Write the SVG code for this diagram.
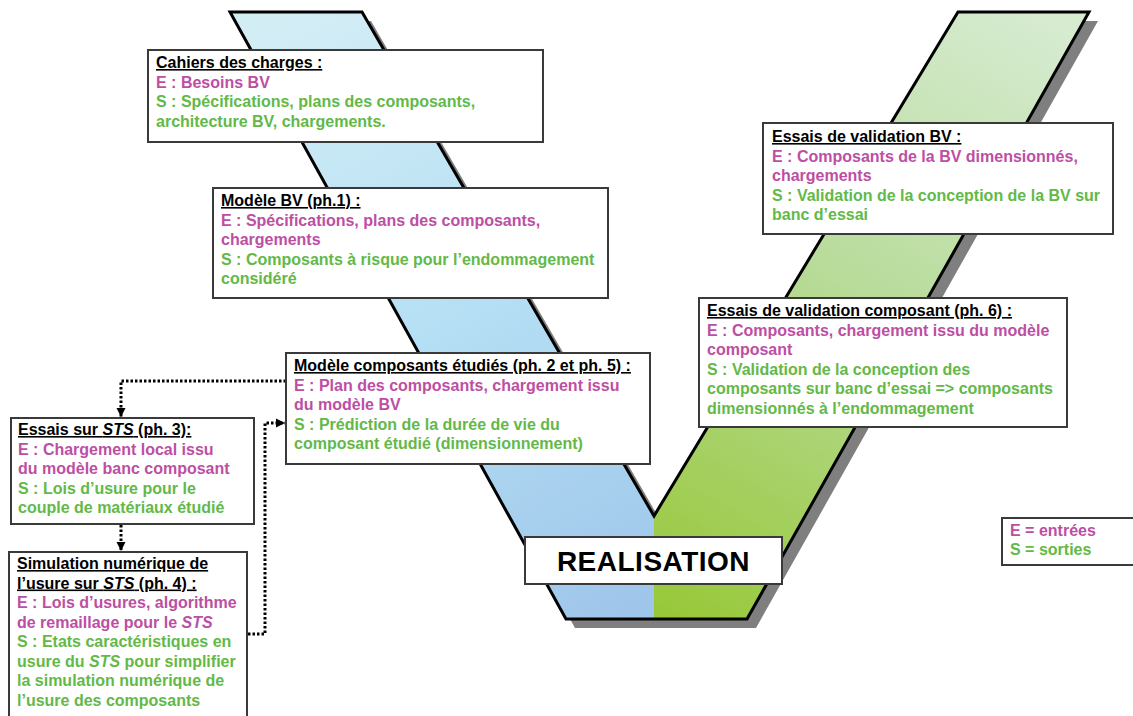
<svg xmlns="http://www.w3.org/2000/svg" width="1133" height="716" viewBox="0 0 1133 716">
<style>
.box{fill:#fff;stroke:#3a3a3a;stroke-width:2}
text{font-family:"Liberation Sans",Arial,sans-serif;font-size:16px;font-weight:bold}
.t{fill:#000;text-decoration:underline}
.e{fill:#bc4fa3}
.s{fill:#63b947}
.i{font-style:italic}
.con{fill:none;stroke:#000;stroke-width:3;stroke-dasharray:2.5 2}
</style>
<defs>
<linearGradient id="gb" gradientUnits="userSpaceOnUse" x1="300" y1="12" x2="640" y2="619">
<stop offset="0" stop-color="#d3edf5"/>
<stop offset="0.5" stop-color="#b5dff4"/>
<stop offset="1" stop-color="#9ec5ea"/>
</linearGradient>
<linearGradient id="gg" gradientUnits="userSpaceOnUse" x1="1030" y1="12" x2="680" y2="619">
<stop offset="0" stop-color="#d6ebd0"/>
<stop offset="0.45" stop-color="#b9dc9c"/>
<stop offset="1" stop-color="#98c83a"/>
</linearGradient>
<marker id="ar" markerUnits="userSpaceOnUse" markerWidth="10" markerHeight="10" refX="9" refY="5" orient="auto">
<path d="M0,0.5 L9,5 L0,9.5 Z" fill="#000"/>
</marker>
</defs>
<g id="v-shape">
<polygon points="239,21 371,21 663,525 967,21 1098,21 756,628 575,628" fill="#7f7f7f"/>
<polygon points="230,12 362,12 654,516 654,619 566,619" fill="url(#gb)"/>
<polygon points="654,516 958,12 1089,12 747,619 654,619" fill="url(#gg)"/>
<polygon points="230,12 362,12 654,516 958,12 1089,12 747,619 566,619" fill="none" stroke="#000" stroke-width="3" stroke-linejoin="miter"/>
</g>
<g id="connectors">
<path class="con" d="M286,381 H121 V417" marker-end="url(#ar)"/>
<path class="con" d="M121,525 V551" marker-end="url(#ar)"/>
<path class="con" d="M248,634 H265 V423 H285" marker-end="url(#ar)"/>
</g>
<g id="cahiers">
<rect class="box" x="148" y="50" width="395" height="92"/>
<text x="156" y="68" class="t">Cahiers des charges :</text>
<text x="156" y="87.5" class="e">E : Besoins BV</text>
<text x="156" y="107" class="s">S : Spécifications, plans des composants,</text>
<text x="156" y="126.5" class="s">architecture BV, chargements.</text>
</g>
<g id="modele-bv">
<rect class="box" x="213" y="188" width="395" height="110"/>
<text x="221" y="206" class="t">Modèle BV (ph.1) :</text>
<text x="221" y="225.5" class="e">E : Spécifications, plans des composants,</text>
<text x="221" y="245" class="e">chargements</text>
<text x="221" y="264.5" class="s">S : Composants à risque pour l’endommagement</text>
<text x="221" y="284" class="s">considéré</text>
</g>
<g id="modele-composants">
<rect class="box" x="286" y="353" width="364" height="111"/>
<text x="294" y="371" class="t">Modèle composants étudiés (ph. 2 et ph. 5) :</text>
<text x="294" y="390.5" class="e">E : Plan des composants, chargement issu</text>
<text x="294" y="410" class="e">du modèle BV</text>
<text x="294" y="429.5" class="s">S : Prédiction de la durée de vie du</text>
<text x="294" y="449" class="s">composant étudié (dimensionnement)</text>
</g>
<g id="realisation">
<rect class="box" x="525" y="537" width="257" height="47"/>
<text x="653.5" y="571" text-anchor="middle" style="font-size:28px;letter-spacing:0.5px;fill:#000">REALISATION</text>
</g>
<g id="essais-bv">
<rect class="box" x="763" y="123" width="350" height="111"/>
<text x="772" y="142" class="t">Essais de validation BV :</text>
<text x="772" y="161.5" class="e">E : Composants de la BV dimensionnés,</text>
<text x="772" y="181" class="e">chargements</text>
<text x="772" y="200.5" class="s">S : Validation de la conception de la BV sur</text>
<text x="772" y="220" class="s">banc d’essai</text>
</g>
<g id="essais-composant">
<rect class="box" x="699" y="298" width="368" height="129"/>
<text x="707" y="316" class="t">Essais de validation composant (ph. 6) :</text>
<text x="707" y="335.5" class="e">E : Composants, chargement issu du modèle</text>
<text x="707" y="355" class="e">composant</text>
<text x="707" y="374.5" class="s">S : Validation de la conception des</text>
<text x="707" y="394" class="s">composants sur banc d’essai =&gt; composants</text>
<text x="707" y="413.5" class="s">dimensionnés à l’endommagement</text>
</g>
<g id="essais-sts">
<rect class="box" x="11" y="418" width="243" height="106"/>
<text x="18" y="435" class="t">Essais sur <tspan class="i">STS</tspan> (ph. 3):</text>
<text x="18" y="454.5" class="e">E : Chargement local issu</text>
<text x="18" y="474" class="e">du modèle banc composant</text>
<text x="18" y="493.5" class="s">S : Lois d’usure pour le</text>
<text x="18" y="513" class="s">couple de matériaux étudié</text>
</g>
<g id="simulation-sts">
<rect class="box" x="9" y="552" width="238" height="180"/>
<text x="17" y="569" class="t">Simulation numérique de</text>
<text x="17" y="588.5" class="t">l’usure sur <tspan class="i">STS</tspan> (ph. 4) :</text>
<text x="17" y="608" class="e">E : Lois d’usures, algorithme</text>
<text x="17" y="627.5" class="e">de remaillage pour le <tspan class="i">STS</tspan></text>
<text x="17" y="647" class="s">S : Etats caractéristiques en</text>
<text x="17" y="666.5" class="s">usure du <tspan class="i">STS</tspan> pour simplifier</text>
<text x="17" y="686" class="s">la simulation numérique de</text>
<text x="17" y="705.5" class="s">l’usure des composants</text>
</g>
<g id="legend">
<rect class="box" x="1002" y="518" width="140" height="47"/>
<text x="1010" y="536" class="e">E = entrées</text>
<text x="1010" y="555" class="s">S = sorties</text>
</g>
</svg>
